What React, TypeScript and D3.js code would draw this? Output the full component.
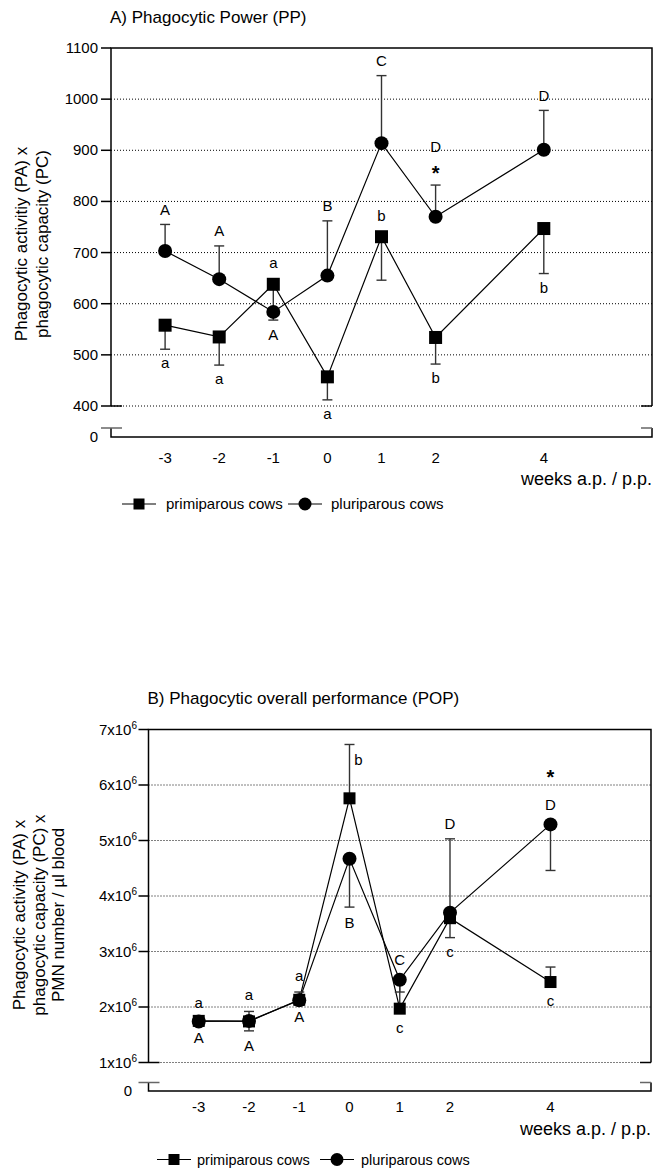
import React, { useEffect, useRef } from "react";
import * as d3 from "d3";

const FONT = "'Liberation Sans', Arial, Helvetica, sans-serif";

// weeks a.p. / p.p.
const weeks = [-3, -2, -1, 0, 1, 2, 4];
const xTickLabels = ["-3", "-2", "-1", "0", "1", "2", "4"];

// A) Phagocytic Power (PP)
const ppTicks = [400, 500, 600, 700, 800, 900, 1000, 1100];
const ppPrimi = [558, 535, 638, 457, 731, 534, 747];
const ppPrimiSem = [47, 55, 50, 45, 85, 52, 88];
const ppPrimiDir = [-1, -1, -1, -1, -1, -1, -1];
const ppPrimiLetters = ["a", "a", "a", "a", "b", "b", "b"];
const ppPrimiSide = ["down", "down", "up", "down", "up", "down", "down"];
const ppPluri = [703, 648, 584, 655, 914, 770, 901];
const ppPluriSem = [52, 65, 16, 107, 132, 62, 77];
const ppPluriDir = [1, 1, -1, 1, 1, 1, 1];
const ppPluriLetters = ["A", "A", "A", "B", "C", "D", "D"];
const ppPluriSide = ["up", "up", "down", "up", "up", "up", "up"];
const ppStarWeeks = [2];

// B) Phagocytic overall performance (POP), in 10^6
const popTicks = [1, 2, 3, 4, 5, 6, 7];
const popPrimi = [1.75, 1.74, 2.13, 5.76, 1.97, 3.6, 2.45];
const popPrimiSem = [0.03, 0.18, 0.14, 0.97, 0.45, 0.35, 0.27];
const popPrimiDir = [1, 1, 1, 1, 1, -1, 1];
const popPrimiLetters = ["a", "a", "a", "b", "c", "c", "c"];
const popPrimiSide = ["up", "up", "up", "right", "down", "down", "down"];
const popPluri = [1.74, 1.75, 2.12, 4.67, 2.49, 3.7, 5.29];
const popPluriSem = [0.03, 0.18, 0.03, 0.87, 0.22, 1.33, 0.83];
const popPluriDir = [-1, -1, -1, -1, -1, 1, -1];
const popPluriLetters = ["A", "A", "A", "B", "C", "D", "D"];
const popPluriSide = ["down", "down", "down", "down", "up", "up", "up"];
const popStarWeeks = [4];

const makeSeries = (vals, sem, dir, letters, side) =>
  weeks.map((w, i) => ({ w, v: vals[i], sem: sem[i], dir: dir[i], letter: letters[i], side: side[i] }));

const panelA = {
  title: "A) Phagocytic Power (PP)",
  titleY: 23,
  yTitle: ["Phagocytic activitiy (PA) x", "phagocytic capacity (PC)"],
  yTitleX: [27, 48],
  yTitleMid: 244,
  xRange: [111, 652],
  yDomain: [400, 1100],
  yRange: [406, 48],
  ticks: ppTicks,
  sup: false,
  labelEnd: 98,
  breakY: 428,
  axisY: 437,
  xLabelY: 463,
  weeksY: 485,
  sqSize: 13,
  circR: 7,
  primi: makeSeries(ppPrimi, ppPrimiSem, ppPrimiDir, ppPrimiLetters, ppPrimiSide),
  pluri: makeSeries(ppPluri, ppPluriSem, ppPluriDir, ppPluriLetters, ppPluriSide),
  stars: ppStarWeeks,
  starInner: true,
  legendY: 504,
  legendFont: 15,
  legend: [122, 166, 288, 331],
};

const panelB = {
  title: "B) Phagocytic overall performance (POP)",
  titleY: 704,
  yTitle: ["Phagocytic activity (PA) x", "phagocytic capacity (PC) x", "PMN number / µl blood"],
  yTitleX: [25, 44.5, 64],
  yTitleMid: 915,
  xRange: [148.5, 651],
  yDomain: [1, 7],
  yRange: [1062.5, 729.5],
  ticks: popTicks,
  sup: true,
  labelEnd: 137,
  breakY: 1082.5,
  axisY: 1091,
  xLabelY: 1112,
  weeksY: 1135,
  sqSize: 12,
  circR: 7,
  primi: makeSeries(popPrimi, popPrimiSem, popPrimiDir, popPrimiLetters, popPrimiSide),
  pluri: makeSeries(popPluri, popPluriSem, popPluriDir, popPluriLetters, popPluriSide),
  stars: popStarWeeks,
  starInner: false,
  legendY: 1159.5,
  legendFont: 14.5,
  legend: [157, 197, 320, 361],
};

function drawPanel(svg, p) {
  const x = d3.scaleLinear().domain([-4, 6]).range(p.xRange);
  const y = d3.scaleLinear().domain(p.yDomain).range(p.yRange);
  const [x0, x1] = p.xRange;
  const yLow = y(p.yDomain[0]);
  const yTop = y(p.yDomain[1]);
  const g = svg.append("g").attr("font-family", FONT).attr("fill", "#000");

  // titles
  g.append("text").attr("x", x0 - 1).attr("y", p.titleY).attr("font-size", 17).text(p.title);
  p.yTitle.forEach((t, i) => {
    g.append("text")
      .attr("transform", `translate(${p.yTitleX[i]},${p.yTitleMid}) rotate(-90)`)
      .attr("text-anchor", "middle")
      .attr("font-size", 17)
      .text(t);
  });

  // dotted grid
  g.append("g")
    .selectAll("line")
    .data(p.ticks.slice(0, -1))
    .join("line")
    .attr("x1", x0).attr("x2", x1)
    .attr("y1", d => y(d)).attr("y2", d => y(d))
    .attr("stroke", "#000").attr("stroke-width", 1).attr("stroke-dasharray", "1 2");

  // frame
  const frame = g.append("g").attr("fill", "none").attr("stroke", "#000").attr("stroke-width", 1.5);
  frame.append("path").attr("d", `M${x0},${yLow}V${yTop}H${x1}V${yLow}`);
  frame.append("path").attr("d", `M${x0},${p.breakY}V${p.axisY}H${x1}V${p.breakY}`);
  p.ticks.slice(1).forEach(t => {
    frame.append("line").attr("x1", x0 - 10).attr("x2", x0).attr("y1", y(t)).attr("y2", y(t));
  });
  frame.append("line").attr("x1", x0 - 10).attr("x2", x0 + 11).attr("y1", yLow).attr("y2", yLow);
  frame.append("line").attr("x1", x1 - 11).attr("x2", x1).attr("y1", yLow).attr("y2", yLow);
  const brk = g.append("g").attr("stroke", "#666").attr("stroke-width", 1.5);
  brk.append("line").attr("x1", x0 - 10).attr("x2", x0 + 11).attr("y1", p.breakY).attr("y2", p.breakY);
  brk.append("line").attr("x1", x1 - 11).attr("x2", x1).attr("y1", p.breakY).attr("y2", p.breakY);

  // y tick labels
  p.ticks.forEach(t => {
    const tx = g.append("text")
      .attr("x", p.labelEnd).attr("y", y(t) + 5)
      .attr("text-anchor", "end").attr("font-size", 15);
    if (p.sup) {
      tx.append("tspan").text(`${t}x10`);
      tx.append("tspan").attr("font-size", 10).attr("dy", -6).text("6");
    } else {
      tx.text(t);
    }
  });
  g.append("text").attr("x", p.labelEnd - (p.sup ? 5 : 0)).attr("y", p.axisY + 5)
    .attr("text-anchor", "end").attr("font-size", 15).text("0");

  // x tick labels
  weeks.forEach((w, i) => {
    g.append("text").attr("x", x(w)).attr("y", p.xLabelY)
      .attr("text-anchor", "middle").attr("font-size", 15).text(xTickLabels[i]);
  });
  g.append("text").attr("x", x1).attr("y", p.weeksY).attr("text-anchor", "end")
    .attr("font-size", 18).text("weeks a.p. / p.p.");

  // lines
  const line = d3.line().x(d => x(d.w)).y(d => y(d.v));
  [p.primi, p.pluri].forEach(s => {
    g.append("path").datum(s).attr("d", line)
      .attr("fill", "none").attr("stroke", "#000").attr("stroke-width", 1.2);
  });

  // error bars
  const eb = g.append("g").attr("stroke", "#333").attr("stroke-width", 1.4);
  [p.primi, p.pluri].forEach(s => {
    s.forEach(d => {
      const end = y(d.v + d.dir * d.sem);
      eb.append("line").attr("x1", x(d.w)).attr("x2", x(d.w)).attr("y1", y(d.v)).attr("y2", end);
      eb.append("line").attr("x1", x(d.w) - 5).attr("x2", x(d.w) + 5).attr("y1", end).attr("y2", end);
    });
  });

  // markers
  g.append("g").selectAll("rect").data(p.primi).join("rect")
    .attr("x", d => x(d.w) - p.sqSize / 2).attr("y", d => y(d.v) - p.sqSize / 2)
    .attr("width", p.sqSize).attr("height", p.sqSize).attr("fill", "#000");
  g.append("g").selectAll("circle").data(p.pluri).join("circle")
    .attr("cx", d => x(d.w)).attr("cy", d => y(d.v)).attr("r", p.circR).attr("fill", "#000");

  // letters and stars
  const fs = 15;
  [p.primi, p.pluri].forEach((s, si) => {
    s.forEach(d => {
      const end = y(d.v + d.dir * d.sem);
      let cx = x(d.w);
      let cy;
      const starHere = si === 1 && p.stars.includes(d.w);
      if (d.side === "up") cy = d.dir > 0 ? end - 15 : y(d.v) - 20;
      else if (d.side === "down") cy = d.dir < 0 ? end + 15 : y(d.v) + 20;
      else { cx += 9; cy = end + 16; }
      let starY = null;
      if (starHere) {
        if (p.starInner) { starY = cy - 2; cy = cy - 23; }
        else starY = cy - 32;
      }
      const base = /[a-z]/.test(d.letter) ? 0.27 : 0.36;
      g.append("text").attr("x", cx).attr("y", cy + base * fs)
        .attr("text-anchor", "middle").attr("font-size", fs).text(d.letter);
      if (starY !== null) {
        g.append("text").attr("x", cx).attr("y", starY + 0.58 * 20)
          .attr("text-anchor", "middle").attr("font-size", 20).attr("font-weight", "bold").text("*");
      }
    });
  });

  // legend
  const [l1, t1, l2, t2] = p.legend;
  const ly = p.legendY;
  const lg = g.append("g");
  lg.append("line").attr("x1", l1).attr("x2", l1 + 34).attr("y1", ly).attr("y2", ly).attr("stroke", "#000").attr("stroke-width", 1.2);
  lg.append("rect").attr("x", l1 + 17 - 5.5).attr("y", ly - 5.5).attr("width", 11).attr("height", 11).attr("fill", "#000");
  lg.append("text").attr("x", t1).attr("y", ly + 5).attr("font-size", p.legendFont).text("primiparous cows");
  lg.append("line").attr("x1", l2).attr("x2", l2 + 34).attr("y1", ly).attr("y2", ly).attr("stroke", "#000").attr("stroke-width", 1.2);
  lg.append("circle").attr("cx", l2 + 17).attr("cy", ly).attr("r", 6.5).attr("fill", "#000");
  lg.append("text").attr("x", t2).attr("y", ly + 5).attr("font-size", p.legendFont).text("pluriparous cows");
}

export default function App() {
  const svgRef = useRef(null);

  useEffect(() => {
    const svg = d3.select(svgRef.current);
    svg.selectAll("*").remove();
    drawPanel(svg, panelA);
    drawPanel(svg, panelB);
  }, []);

  return (
    <svg
      ref={svgRef}
      width={653}
      height={1173}
      style={{ position: "absolute", left: 0, top: 0, background: "#fff" }}
    />
  );
}
